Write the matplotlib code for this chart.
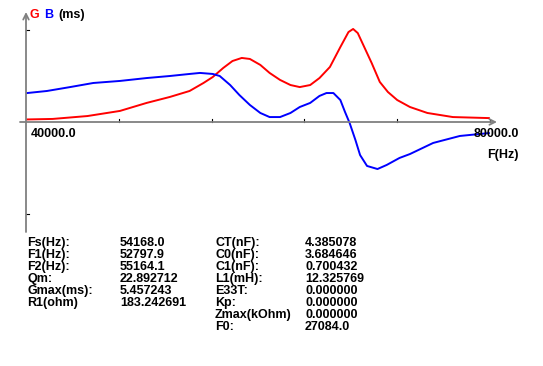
import matplotlib
matplotlib.use("Agg")
import matplotlib.pyplot as plt

W, H = 543, 366

# G (conductance) curve, ms
g_freq = [40100, 42300, 45300, 48100, 50400, 52400, 54100, 55300, 56100, 57000,
          57800, 58600, 59300, 60200, 61000, 61900, 62800, 63600, 64500, 65300,
          66200, 67100, 67800, 68200, 68600, 69200, 69800, 70500, 71200, 72000,
          73100, 74600, 76800, 79900]
g_vals = [0.15, 0.18, 0.35, 0.65, 1.12, 1.47, 1.82, 2.29, 2.64, 3.17,
          3.58, 3.76, 3.70, 3.35, 2.88, 2.47, 2.17, 2.05, 2.17, 2.58,
          3.23, 4.40, 5.28, 5.46, 5.22, 4.34, 3.46, 2.35, 1.76, 1.29,
          0.88, 0.53, 0.29, 0.23]

# B (susceptance) curve, ms
b_freq = [40100, 41800, 43800, 45800, 48100, 50400, 52400, 54100, 55000, 56100,
          56700, 57600, 58400, 59300, 60200, 61000, 61900, 62800, 63600, 64500,
          65300, 65900, 66500, 67100, 67500, 67900, 68400, 68800, 69400, 70300,
          71100, 72200, 73100, 75100, 77400, 79900]
b_vals = [1.70, 1.82, 2.05, 2.29, 2.41, 2.58, 2.70, 2.82, 2.88, 2.82,
          2.70, 2.17, 1.58, 1.00, 0.53, 0.29, 0.29, 0.53, 0.88, 1.12,
          1.53, 1.70, 1.70, 1.29, 0.59, -0.06, -1.06, -1.94, -2.58, -2.76,
          -2.52, -2.11, -1.88, -1.23, -0.82, -0.65]

x_ticks = [48000, 56000, 64000, 72000, 80000]
y_ticks = [5.4, -5.4]
x_min, x_max = 40000, 80000

labels_left = ["Fs(Hz):", "F1(Hz):", "F2(Hz):", "Qm:", "Gmax(ms):", "R1(ohm)"]
values_left = ["54168.0", "52797.9", "55164.1", "22.892712", "5.457243", "183.242691"]
labels_right = ["CT(nF):", "C0(nF):", "C1(nF):", "L1(mH):", "E33T:", "Kp:",
                "Zmax(kOhm)", "F0:"]
values_right = ["4.385078", "3.684646", "0.700432", "12.325769", "0.000000",
                "0.000000", "0.000000", "27084.0"]


def px(x, y):
    return x / W, 1 - y / H


fig = plt.figure(figsize=(W / 100, H / 100), dpi=100)
# plot area in pixels: x 18..500, y 10..240 ; 40000 at x=26, 80000 at x=490, 0 at y=122
hz_px = (x_max - x_min) / 464.0
ms_px = 5.4 / 92.0
ax = fig.add_axes([18 / W, 1 - 240 / H, 482 / W, 230 / H])
ax.set_xlim(x_min - 8 * hz_px, x_min + 474 * hz_px)
ax.set_ylim(-118 * ms_px, 112 * ms_px)
ax.axis("off")

axis_col = "#808080"
# axes with open arrow heads
ax.annotate("", xy=(x_min + 471 * hz_px, 0), xytext=(x_min - 6 * hz_px, 0),
            arrowprops=dict(arrowstyle="->", color=axis_col, lw=1.3,
                            shrinkA=0, shrinkB=0, mutation_scale=10))
ax.annotate("", xy=(x_min, 110 * ms_px), xytext=(x_min, -110 * ms_px),
            arrowprops=dict(arrowstyle="->", color=axis_col, lw=1.3,
                            shrinkA=0, shrinkB=0, mutation_scale=10))
for t in x_ticks:
    ax.plot([t, t], [0, 3 * ms_px], color="black", lw=0.8)
for t in y_ticks:
    ax.plot([x_min, x_min + 3 * hz_px], [t, t], color="black", lw=0.8)

ax.plot(g_freq, g_vals, color="#ff0000", lw=1.4, solid_joinstyle="round")
ax.plot(b_freq, b_vals, color="#0000ff", lw=1.4, solid_joinstyle="round")

font = dict(family="Liberation Sans", weight="bold", fontsize=9)

fig.text(*px(30, 15), "G", color="#ff0000", va="center", **font)
fig.text(*px(44, 15), "B", color="#0000ff", va="center", **font)
fig.text(*px(58, 15), "(ms)", color="black", va="center", **font)
fig.text(*px(31, 134), "40000.0", va="center", **font)
fig.text(*px(519, 134), "80000.0", va="center", ha="right", **font)
fig.text(*px(519, 155), "F(Hz)", va="center", ha="right", **font)

row0, dy = 243, 12
for i, (lab, val) in enumerate(zip(labels_left, values_left)):
    fig.text(*px(27, row0 + i * dy), lab, va="center", **font)
    fig.text(*px(120, row0 + i * dy), val, va="center", **font)
for i, (lab, val) in enumerate(zip(labels_right, values_right)):
    fig.text(*px(215, row0 + i * dy), lab, va="center", **font)
    fig.text(*px(305, row0 + i * dy), val, va="center", **font)

fig.savefig("out.png", dpi=100)
